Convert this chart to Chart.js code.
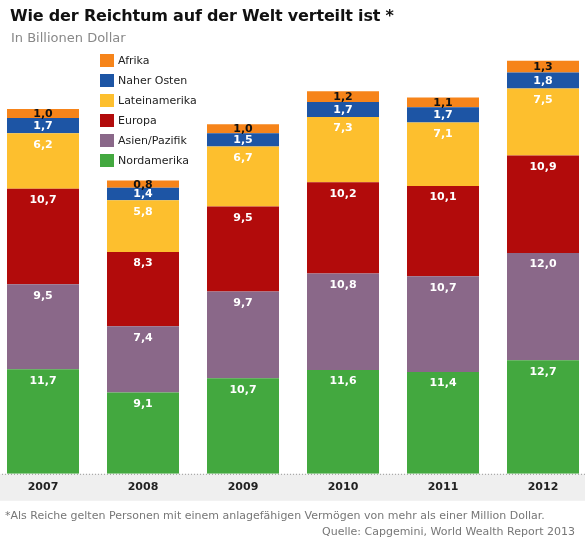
<!DOCTYPE html>
<html>
<head>
<meta charset="utf-8">
<script src="https://cdn.jsdelivr.net/npm/chart.js@4"></script>
<style>
  body { margin: 0; width: 585px; height: 541px; overflow: hidden; background: #fff; font-family: "DejaVu Sans", Verdana, sans-serif; position: relative; }
  #wrap { position: absolute; left: -7px; top: 0; width: 600px; height: 541px; }
  #title { position: absolute; left: 10px; top: 6px; font-size: 16px; font-weight: bold; color: #111; letter-spacing: -0.18px; }
  #sub { position: absolute; left: 11px; top: 30px; font-size: 13px; color: #888; }
  #legend { position: absolute; left: 100px; top: 54px; font-size: 11px; color: #222; }
  #legend div { height: 20px; line-height: 14px; }
  #legend span { display: inline-block; width: 14px; height: 13px; vertical-align: top; margin-right: 4px; }
  #note { position: absolute; left: 5px; top: 509px; font-size: 11px; color: #777; }
  #src { position: absolute; right: 10px; top: 525px; font-size: 11px; color: #777; }
</style>
</head>
<body>
<div id="wrap"><canvas id="barCanvas" width="600" height="541"></canvas></div>
<div id="title">Wie der Reichtum auf der Welt verteilt ist *</div>
<div id="sub">In Billionen Dollar</div>
<div id="legend"></div>
<div id="note">*Als Reiche gelten Personen mit einem anlagefähigen Vermögen von mehr als einer Million Dollar.</div>
<div id="src">Quelle: Capgemini, World Wealth Report 2013</div>
<script>
const years = ["2007", "2008", "2009", "2010", "2011", "2012"];
const nordamerika = [11.7, 9.1, 10.7, 11.6, 11.4, 12.7];
const asienPazifik = [9.5, 7.4, 9.7, 10.8, 10.7, 12.0];
const europa = [10.7, 8.3, 9.5, 10.2, 10.1, 10.9];
const lateinamerika = [6.2, 5.8, 6.7, 7.3, 7.1, 7.5];
const naherOsten = [1.7, 1.4, 1.5, 1.7, 1.7, 1.8];
const afrika = [1.0, 0.8, 1.0, 1.2, 1.1, 1.3];

const series = [
    { label: "Nordamerika", data: nordamerika, color: "#43a83f", text: "#fff" },
    { label: "Asien/Pazifik", data: asienPazifik, color: "#8a6889", text: "#fff" },
    { label: "Europa", data: europa, color: "#b20b0b", text: "#fff" },
    { label: "Lateinamerika", data: lateinamerika, color: "#fdbf2e", text: "#fff" },
    { label: "Naher Osten", data: naherOsten, color: "#1d55a5", text: "#fff" },
    { label: "Afrika", data: afrika, color: "#f6841a", text: "#111" }
];

// legend, top series first
const legendBox = document.getElementById("legend");
series.slice().reverse().forEach(s => {
    const row = document.createElement("div");
    row.innerHTML = '<span style="background:' + s.color + '"></span>' + s.label;
    legendBox.appendChild(row);
});

const bandPlugin = {
    id: "band",
    beforeDraw(chart) {
        const ctx = chart.ctx;
        const a = chart.chartArea;
        ctx.save();
        ctx.fillStyle = "#efefef";
        ctx.fillRect(0, a.bottom, chart.width, 27);
        ctx.strokeStyle = "#999";
        ctx.setLineDash([1, 2]);
        ctx.beginPath();
        ctx.moveTo(0, a.bottom + 0.5);
        ctx.lineTo(chart.width, a.bottom + 0.5);
        ctx.stroke();
        ctx.restore();
    }
};

const labelPlugin = {
    id: "segLabels",
    afterDatasetsDraw(chart) {
        const ctx = chart.ctx;
        ctx.save();
        ctx.font = "bold 11px 'DejaVu Sans'";
        ctx.textAlign = "center";
        ctx.textBaseline = "middle";
        chart.data.datasets.forEach((ds, i) => {
            chart.getDatasetMeta(i).data.forEach((bar, j) => {
                const top = Math.min(bar.y, bar.base);
                const h = Math.abs(bar.base - bar.y);
                ctx.fillStyle = series[i].text;
                ctx.fillText(ds.data[j].toFixed(1).replace(".", ","), bar.x, top + Math.min(11, h / 2) + 0.5);
            });
        });
        ctx.restore();
    }
};

new Chart(document.getElementById("barCanvas"), {
    type: "bar",
    data: {
        labels: years,
        datasets: series.map(s => ({
            label: s.label,
            data: s.data,
            backgroundColor: s.color,
            borderWidth: 0,
            barPercentage: 0.72,
            categoryPercentage: 1
        }))
    },
    options: {
        responsive: false,
        animation: false,
        layout: { padding: { top: 0, bottom: 40, left: 0, right: 0 } },
        plugins: { legend: { display: false }, tooltip: { enabled: false } },
        scales: {
            x: {
                stacked: true,
                grid: { display: false, drawTicks: false },
                border: { display: false },
                ticks: { padding: 7, color: "#222", font: { family: "DejaVu Sans", size: 11, weight: "bold" } }
            },
            y: {
                stacked: true,
                display: false,
                min: 0,
                max: 53.0
            }
        }
    },
    plugins: [bandPlugin, labelPlugin]
});
</script>
</body>
</html>
